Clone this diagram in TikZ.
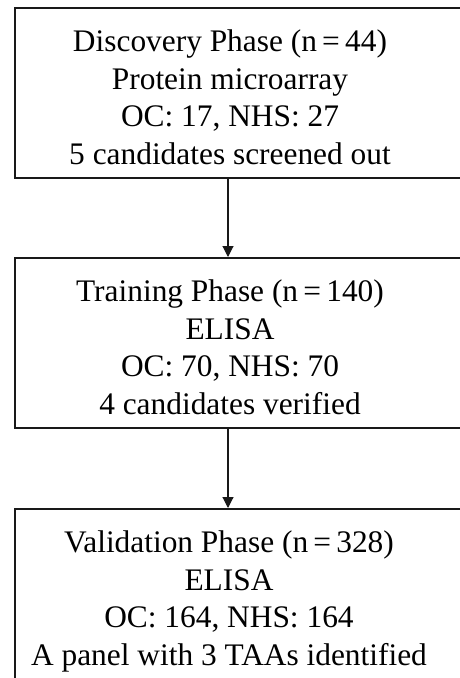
\documentclass[tikz,border=0pt]{standalone}
\usepackage{fontspec}
\setmainfont{Liberation Serif}
\usetikzlibrary{arrows.meta}
\begin{document}
\begin{tikzpicture}[x=1bp,y=-1bp,
  box/.style={draw=black!90,line width=1.5bp,rectangle,inner sep=0pt,anchor=north west},
  txt/.style={align=center,font=\fontsize{31.5}{37.5}\selectfont,inner sep=0pt,anchor=base},
  arr/.style={draw=black!90,line width=1.1bp,-{Triangle[length=11bp,width=11bp]}}]
\useasboundingbox (0,0) rectangle (460,678);
\clip (0,0) rectangle (460,678);
\node[box,minimum width=461bp,minimum height=169.5bp] (d) at (14,7.5) {};
\node[box,minimum width=461bp,minimum height=170bp] (t) at (14,257) {};
\node[box,minimum width=461bp,minimum height=200bp] (v) at (14,508) {};
\node[txt] (dtxt) at (230,164) {Discovery Phase (n\,=\,44)\\Protein microarray\\OC: 17, NHS: 27\\5 candidates screened out};
\node[txt] (ttxt) at (230,414) {Training Phase (n\,=\,140)\\ELISA\\OC: 70, NHS: 70\\4 candidates verified};
\node[txt] (vtxt) at (229,665) {Validation Phase (n\,=\,328)\\ELISA\\OC: 164, NHS: 164\\A panel with 3 TAAs identified};
\coordinate (ax) at (228,0);
\draw[arr] (d.south -| ax) -- (t.north -| ax);
\draw[arr] (t.south -| ax) -- (v.north -| ax);
\end{tikzpicture}
\end{document}
